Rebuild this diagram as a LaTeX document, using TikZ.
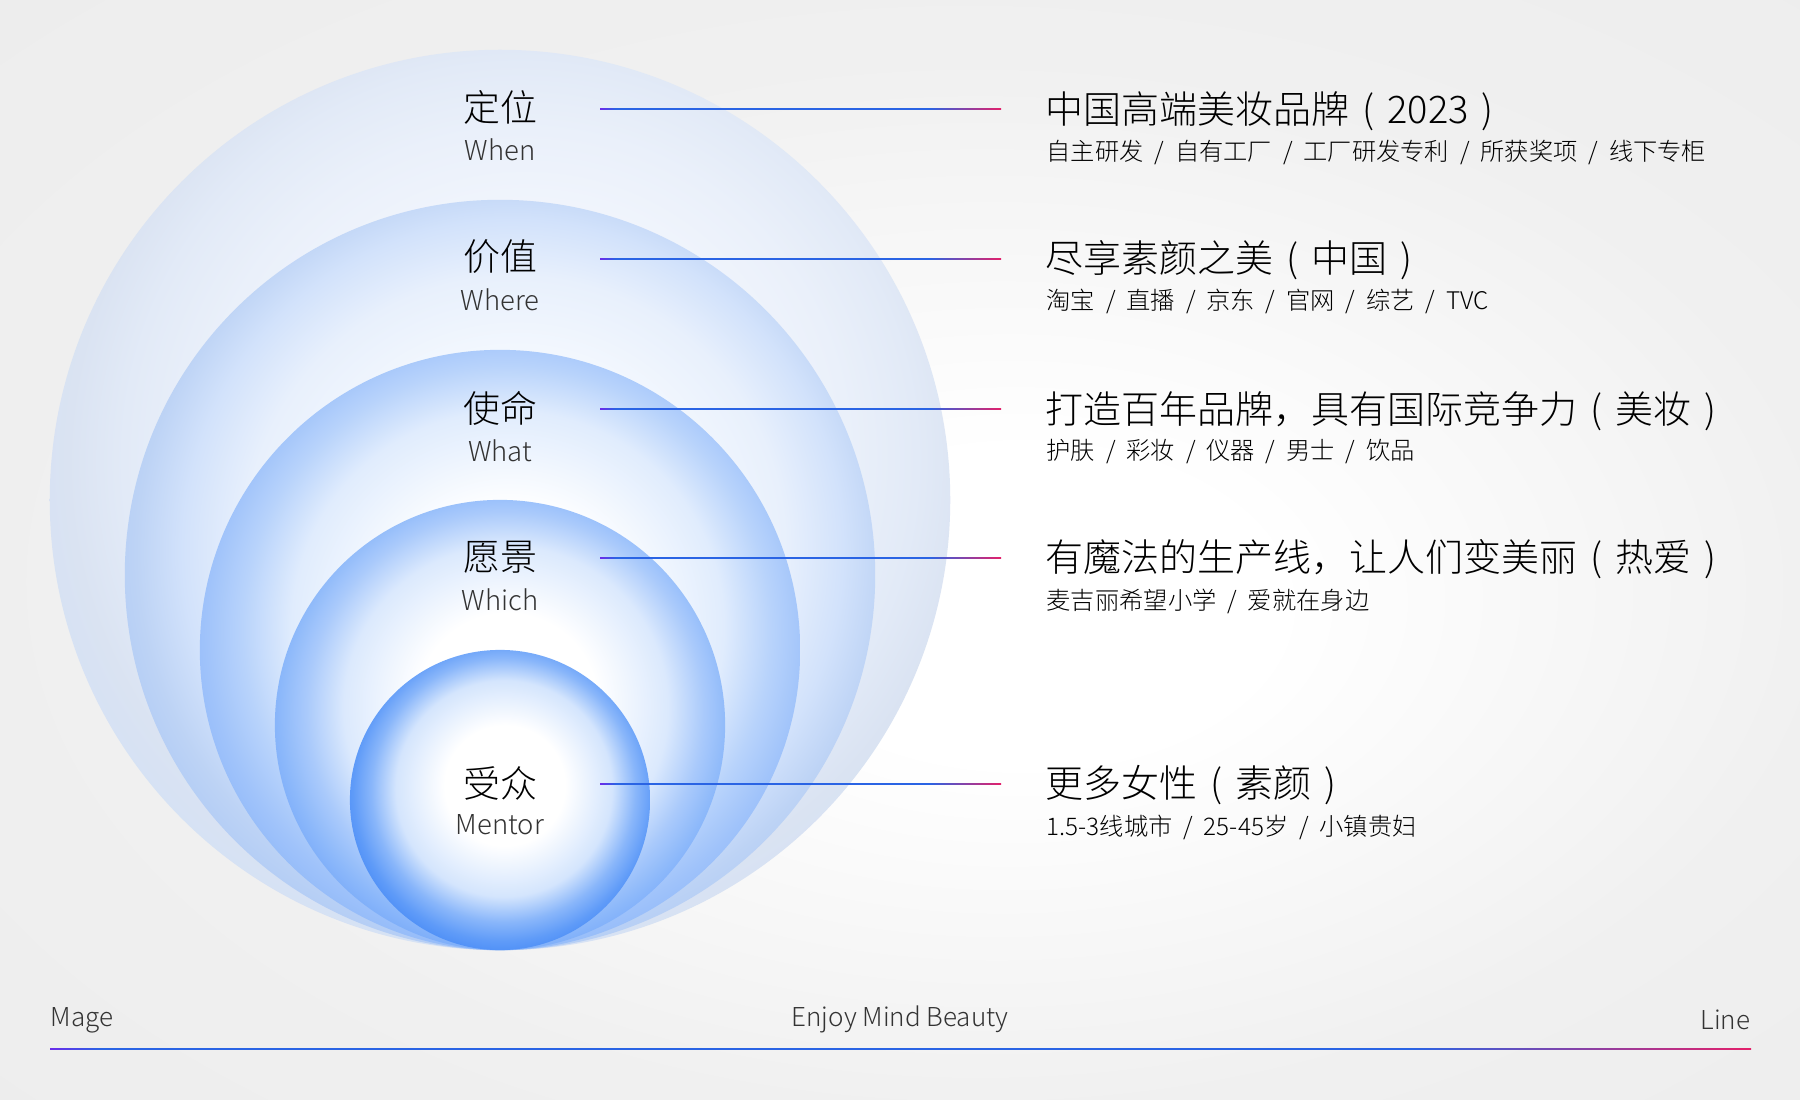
\documentclass[tikz,border=0pt]{standalone}
\usepackage{fontspec}
\IfFontExistsTF{Noto Sans CJK SC Light}{\setmainfont{Noto Sans CJK SC Light}}{\setmainfont{Noto Sans CJK SC}}
\usetikzlibrary{calc}
\definecolor{bgg}{HTML}{F0F0F0}
\definecolor{bgh}{HTML}{EAEAEA}
\definecolor{cpurple}{HTML}{6B2BEA}
\definecolor{cblue}{HTML}{2A64E4}
\definecolor{cred}{HTML}{E4206A}
% circle colours
\definecolor{a0}{HTML}{FBFCFF}\definecolor{a1}{HTML}{F5F8FE}\definecolor{a2}{HTML}{EAF0FA}\definecolor{a3}{HTML}{E2EAF7}\definecolor{a4}{HTML}{DAE3F2}\definecolor{a5}{HTML}{D2E0F6}
\definecolor{b0}{HTML}{FFFFFF}\definecolor{b1}{HTML}{F8FBFF}\definecolor{b2}{HTML}{E8F0FC}\definecolor{b3}{HTML}{D2E2FB}\definecolor{b4}{HTML}{BDD3F5}\definecolor{b5}{HTML}{A8C6F5}
\definecolor{c0}{HTML}{FFFFFF}\definecolor{c1}{HTML}{FDFEFF}\definecolor{c2}{HTML}{E0ECFD}\definecolor{c3}{HTML}{B8D3FB}\definecolor{c4}{HTML}{A0C3FA}\definecolor{c5}{HTML}{86B2F8}
\definecolor{d0}{HTML}{FFFFFF}\definecolor{d1}{HTML}{FFFFFF}\definecolor{d2}{HTML}{DBE9FD}\definecolor{d3}{HTML}{AACAFB}\definecolor{d4}{HTML}{8CB8FA}\definecolor{d5}{HTML}{6AA0F8}
\definecolor{e0}{HTML}{FFFFFF}\definecolor{e1}{HTML}{FFFFFF}\definecolor{e2}{HTML}{D4E5FD}\definecolor{e3}{HTML}{89B6FA}\definecolor{e4}{HTML}{5F9BF8}\definecolor{e5}{HTML}{3A81F5}
\pgfdeclareradialshading{bgshade}{\pgfpoint{4bp}{-3bp}}{color(0bp)=(white); color(7bp)=(white); color(24bp)=(bgg); color(50bp)=(bgh)}
\pgfdeclareradialshading{circA}{\pgfpoint{2bp}{4bp}}{color(0bp)=(a0); color(10bp)=(a1); color(18bp)=(a2); color(22bp)=(a3); color(25bp)=(a4); color(29bp)=(a5); color(50bp)=(a5)}
\pgfdeclareradialshading{circB}{\pgfpoint{1.5bp}{3bp}}{color(0bp)=(b0); color(10bp)=(b1); color(18bp)=(b2); color(22bp)=(b3); color(25bp)=(b4); color(29bp)=(b5); color(50bp)=(b5)}
\pgfdeclareradialshading{circC}{\pgfpoint{1bp}{3bp}}{color(0bp)=(c0); color(10bp)=(c1); color(18bp)=(c2); color(22bp)=(c3); color(25bp)=(c4); color(29bp)=(c5); color(50bp)=(c5)}
\pgfdeclareradialshading{circD}{\pgfpoint{1bp}{3bp}}{color(0bp)=(d0); color(10bp)=(d1); color(18bp)=(d2); color(22bp)=(d3); color(25bp)=(d4); color(29bp)=(d5); color(50bp)=(d5)}
\pgfdeclareradialshading{circE}{\pgfpoint{1bp}{3bp}}{color(0bp)=(e0); color(10bp)=(e1); color(18bp)=(e2); color(22bp)=(e3); color(25bp)=(e4); color(29bp)=(e5); color(50bp)=(e5)}
\pgfdeclarehorizontalshading{connline}{100bp}{color(0bp)=(cpurple); color(25bp)=(cpurple); color(27bp)=(cblue); color(66bp)=(cblue); color(75bp)=(cred); color(100bp)=(cred)}
\pgfdeclarehorizontalshading{baseline}{100bp}{color(0bp)=(cpurple); color(25bp)=(cpurple); color(26.5bp)=(cblue); color(65bp)=(cblue); color(75bp)=(cred); color(100bp)=(cred)}
\newcommand\sepx{\hspace{0.45em}/\hspace{0.45em}}
\newcommand\lpx{\makebox[1em][c]{(}}
\newcommand\rpx{\makebox[1em][c]{)}}
\tikzset{
  lab/.style={inner sep=0, text=black, font=\fontsize{10.5}{12}\selectfont},
  en/.style={inner sep=0, text=black!80, font=\fontsize{7.8}{9}\selectfont},
  ttl/.style={anchor=west, inner sep=0, text=black, font=\fontsize{10.8}{12}\selectfont},
  sub/.style={anchor=west, inner sep=0, text=black, font=\fontsize{6.9}{8}\selectfont},
  foot/.style={inner sep=0, text=black!80, font=\fontsize{7.4}{9}\selectfont},
}
\begin{document}
\begin{tikzpicture}[x=0.01cm, y=-0.01cm]
\useasboundingbox (0,0) rectangle (1800,1100);
\shade[shading=bgshade] (0,0) rectangle (1800,1100);
% nested circles, all touching at the bottom
\shade[shading=circA] (500,500) circle[radius=4.5cm];
\shade[shading=circB] (500,575) circle[radius=3.75cm];
\shade[shading=circC] (500,650) circle[radius=3cm];
\shade[shading=circD] (500,725) circle[radius=2.25cm];
\shade[shading=circE] (500,800) circle[radius=1.5cm];
% left labels
\node[lab] (l1) at (500,107) {定位};
\node[en]  (e1) at (500,150) {When};
\node[lab] (l2) at (500,257) {价值};
\node[en]  (e2) at (500,300) {Where};
\node[lab] (l3) at (500,408) {使命};
\node[en]  (e3) at (500,451) {What};
\node[lab] (l4) at (500,557) {愿景};
\node[en]  (e4) at (500,600) {Which};
\node[lab] (l5) at (500,783) {受众};
\node[en]  (e5) at (500,825) {Mentor};
% connector ends
\foreach \i/\y in {1/109,2/259,3/409,4/558,5/784}{
  \coordinate (s\i) at (600,\y);
  \coordinate (t\i) at (1001,\y);
  \shade[shading=connline] ($(s\i)+(0,-0.7)$) rectangle ($(t\i)+(0,0.7)$);
}
% right texts
\node[ttl] (r1) at (1045,111) {中国高端美妆品牌\lpx 2023\rpx};
\node[sub] (q1) at (1046,152) {自主研发\sepx 自有工厂\sepx 工厂研发专利\sepx 所获奖项\sepx 线下专柜};
\node[ttl] (r2) at (1045,260) {尽享素颜之美\lpx 中国\rpx};
\node[sub] (q2) at (1046,301) {淘宝\sepx 直播\sepx 京东\sepx 官网\sepx 综艺\sepx TVC};
\node[ttl] (r3) at (1045,411) {打造百年品牌，具有国际竞争力\lpx 美妆\rpx};
\node[sub] (q3) at (1046,452) {护肤\sepx 彩妆\sepx 仪器\sepx 男士\sepx 饮品};
\node[ttl] (r4) at (1045,559) {有魔法的生产线，让人们变美丽\lpx 热爱\rpx};
\node[sub] (q4) at (1046,601) {麦吉丽希望小学\sepx 爱就在身边};
\node[ttl] (r5) at (1045,785) {更多女性\lpx 素颜\rpx};
\node[sub] (q5) at (1046,827) {1.5-3线城市\sepx 25-45岁\sepx 小镇贵妇};
% footer
\node[foot, anchor=west] (m) at (50,1020) {Mage};
\node[foot] (ej) at (900,1019) {Enjoy Mind Beauty};
\node[foot, anchor=east] (ln) at (1751,1020) {Line};
\coordinate (bl) at (50,1049);
\coordinate (br) at (1751,1049);
\shade[shading=baseline] ($(bl)+(0,-0.8)$) rectangle ($(br)+(0,0.8)$);
\end{tikzpicture}
\end{document}
